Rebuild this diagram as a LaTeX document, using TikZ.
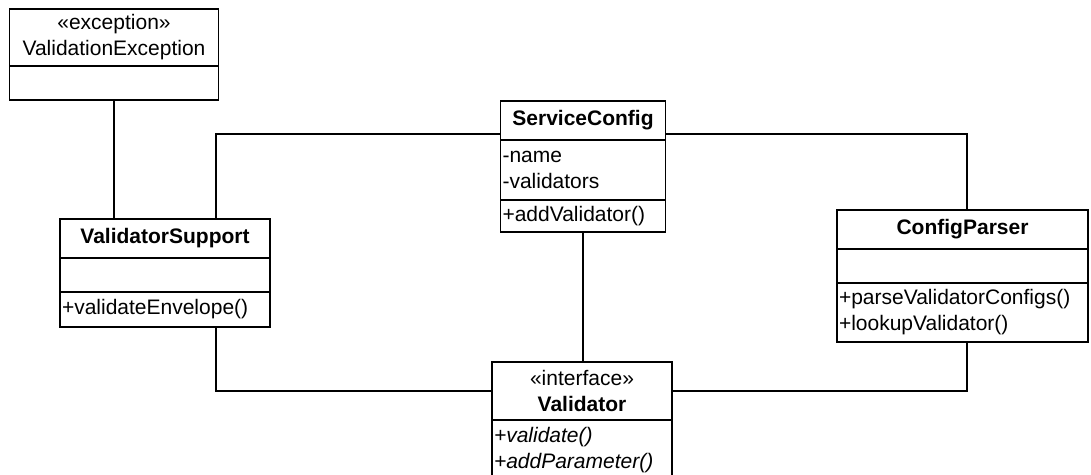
\documentclass[tikz,border=0pt]{standalone}
\usepackage{fontspec}
\setmainfont{Liberation Sans}
\usepackage{tikz}
\usetikzlibrary{positioning}
\newcommand\umlfont{\fontsize{21}{26}\selectfont}
\tikzset{
	clspart/.style={draw,line width=1.6pt,inner xsep=2pt,inner ysep=0pt,outer sep=0pt,font=\umlfont,align=left},
	clshead/.style={clspart,align=center},
	link/.style={line width=1.6pt}
}

\begin{document}
\begin{tikzpicture}[x=1pt,y=-1pt]
	\useasboundingbox (0,0) rectangle (1091,474);
	\clip (0,0) rectangle (1091,474);
	% ValidationException
	\node at(9.5,9) [clshead,anchor=north west,text width=205pt,minimum height=57pt] (veh) {«exception»\\ValidationException};
	\node [clspart,below=0pt of veh,text width=205pt,minimum height=34pt] (vep) {};
	% ServiceConfig
	\node at(500.5,101) [clshead,anchor=north west,text width=161pt,minimum height=39pt] (sch) {\textbf{ServiceConfig}};
	\node [clspart,below=0pt of sch,text width=161pt,minimum height=60pt] (sca) {-name\\-validators};
	\node [clspart,below=0pt of sca,text width=161pt,minimum height=32pt] (scm) {+addValidator()};
	% ValidatorSupport
	\node at(60,219) [clshead,anchor=north west,text width=206pt,minimum height=39pt] (vsh) {\textbf{ValidatorSupport}};
	\node [clspart,below=0pt of vsh,text width=206pt,minimum height=34pt] (vsa) {};
	\node [clspart,below=0pt of vsa,text width=206pt,minimum height=35pt] (vsm) {+validateEnvelope()};
	% ConfigParser
	\node at(837,210) [clshead,anchor=north west,text width=247pt,minimum height=39pt] (cph) {\textbf{ConfigParser}};
	\node [clspart,below=0pt of cph,text width=247pt,minimum height=34pt] (cpa) {};
	\node [clspart,below=0pt of cpa,text width=247pt,minimum height=59pt] (cpm) {+parseValidatorConfigs()\\+lookupValidator()};
	% Validator
	\node at(492,362) [clshead,anchor=north west,text width=176pt,minimum height=58pt] (vh) {«interface»\\\textbf{Validator}};
	\node [clspart,below=0pt of vh,text width=176pt,minimum height=60pt] (vm) {\textit{+validate()}\\\textit{+addParameter()}};
	% links
	\coordinate (j1) at (216,134);
	\coordinate (j2) at (967,134);
	\coordinate (j3) at (216,391);
	\coordinate (j4) at (967,391);
	\draw [link](vep.south) -- (vep.south |- vsh.north);
	\draw [link](sch.west |- j1) -- (j1) -- (j1 |- vsh.north);
	\draw [link](sch.east |- j2) -- (j2) -- (j2 |- cph.north);
	\draw [link](scm.south) -- (scm.south |- vh.north);
	\draw [link](vsm.south -| j3) -- (j3) -- (j3 -| vh.west);
	\draw [link](cpm.south -| j4) -- (j4) -- (j4 -| vh.east);
\end{tikzpicture}
\end{document}
